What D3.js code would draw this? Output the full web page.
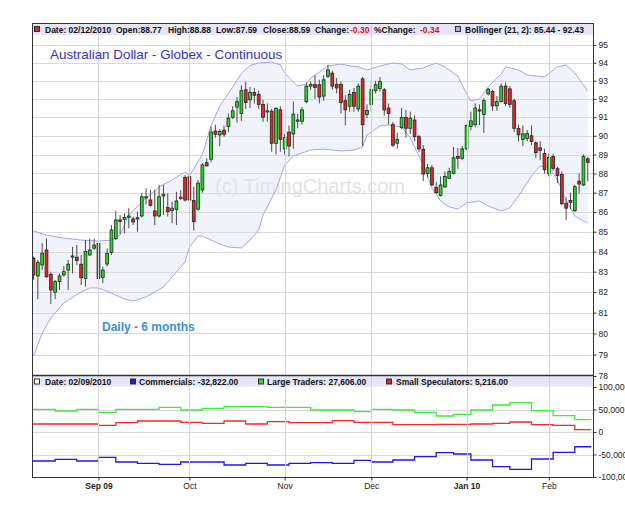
<!DOCTYPE html>
<html>
<head>
<meta charset="utf-8">
<script src="https://cdn.jsdelivr.net/npm/d3@7"></script>
<style>
body { margin: 0; background: #fff; }
</style>
</head>
<body>
<div id="chart"></div>
<script>
// daily bars, 11 Aug 2009 .. 12 Feb 2010 (index = trading day)
const opens = [83.67,82.79,83.33,84.08,82.87,81.99,82.51,82.84,83.08,83.72,83.72,83.37,82.67,83.83,84.17,84.41,82.72,83.38,83.95,84.65,85.60,85.62,85.74,85.65,85.66,85.80,86.74,86.62,86.06,85.80,86.83,86.23,86.07,86.14,86.72,87.80,87.83,86.59,86.15,87.14,88.57,
  88.75,90.25,90.05,90.30,90.50,91.00,91.55,91.20,92.50,91.95,
  92.35,92.25,91.70,91.30,91.33,89.60,91.40,89.30,90.20,90.10,
  90.80,90.78,91.85,92.70,92.78,92.78,92.15,93.25,93.42,92.80,
  92.80,91.90,91.60,92.35,91.45,93.10,91.15,91.70,92.45,92.57,
  92.50,91.50,90.60,89.60,90.45,90.98,90.40,90.85,89.95,89.28,
  88.00,88.30,87.28,86.85,87.30,87.75,88.00,88.90,88.80,89.30,
  90.50,90.60,91.40,91.15,92.27,92.40,91.62,91.85,92.70,92.55,
  91.90,90.40,89.80,89.85,90.00,89.62,89.35,89.05,88.00,88.90,
  88.25,87.95,86.45,86.60,86.07,87.60,87.40,88.77];
const highs = [83.75,83.58,84.41,84.66,83.00,82.59,82.92,83.28,83.58,84.24,84.33,83.83,84.58,84.66,84.66,84.50,83.25,84.16,85.34,86.07,85.85,85.94,86.20,85.77,86.02,86.97,87.23,87.14,87.14,87.40,87.40,86.97,86.54,87.05,87.14,87.92,88.09,87.31,87.66,88.55,88.80,
  90.50,90.60,90.35,90.55,91.20,91.60,92.10,92.75,92.95,92.65,
  92.60,92.45,91.95,91.75,91.45,91.55,91.60,90.10,90.55,91.85,
  91.20,91.55,92.90,92.95,93.30,93.05,93.30,93.88,93.55,93.15,
  92.95,92.20,92.50,92.60,92.85,93.20,91.70,92.90,93.00,93.20,
  92.60,91.75,90.75,90.15,91.50,91.40,91.30,91.10,90.05,89.50,
  88.50,88.45,87.55,87.85,88.10,88.30,89.40,89.35,89.45,90.60,
  91.30,91.75,91.70,92.05,92.60,92.50,92.15,92.85,92.90,92.70,
  92.00,90.60,90.55,90.30,90.55,89.70,89.70,89.30,89.05,89.05,
  88.35,88.10,86.75,87.00,87.40,88.00,89.00,88.88];
const lows = [82.60,81.65,83.08,82.70,81.42,81.65,82.10,82.75,82.10,82.92,83.33,82.35,82.27,83.80,84.08,82.43,82.43,83.25,83.83,84.58,84.88,84.92,85.17,85.34,85.00,85.73,86.40,86.28,85.34,85.73,85.85,85.77,85.43,85.34,86.62,86.54,86.54,85.05,86.07,87.00,88.36,
  88.60,89.90,89.45,89.95,90.20,90.90,90.70,90.80,91.45,91.50,
  91.75,91.45,90.75,90.75,89.15,89.00,89.15,89.00,88.90,89.30,
  90.40,90.60,91.75,92.50,92.00,91.75,91.90,93.15,92.50,92.30,
  91.20,90.55,91.30,91.30,91.30,89.45,90.95,91.30,92.30,92.40,
  91.10,90.60,89.40,89.30,90.35,89.90,90.10,89.70,89.15,87.60,
  87.80,87.35,86.95,86.80,87.25,87.70,87.95,88.25,88.70,89.25,
  90.30,90.45,90.57,90.15,92.20,91.35,91.35,91.80,91.60,91.50,
  90.20,89.70,89.45,89.70,89.50,88.80,88.70,88.00,87.85,88.15,
  87.50,86.35,85.60,86.15,86.00,86.95,87.35,87.59];
const closes = [82.84,83.45,83.92,82.75,82.10,82.51,82.79,83.00,83.37,83.78,83.55,82.70,84.00,84.08,84.33,82.67,83.08,83.92,85.09,85.60,85.52,85.72,85.80,85.50,85.71,86.79,86.79,86.35,85.80,86.79,86.92,86.02,86.20,86.57,86.77,86.62,86.62,85.51,87.50,88.45,88.40,
  90.20,90.08,90.23,90.08,90.95,91.35,91.85,92.45,91.80,92.35,
  92.20,91.70,91.00,91.35,89.60,91.47,89.81,89.90,89.45,91.17,
  90.85,91.40,92.70,92.80,92.63,92.10,93.05,93.60,92.70,92.60,
  91.80,91.40,92.25,91.60,92.70,90.60,91.37,92.50,92.78,92.95,
  91.40,91.20,89.50,89.80,90.98,90.40,90.95,89.95,89.30,87.97,
  88.30,87.40,87.00,87.40,87.85,88.10,88.83,88.80,89.30,90.55,
  90.80,91.50,91.35,91.90,92.53,91.62,91.85,92.70,91.75,91.70,
  90.40,90.05,90.10,90.12,89.70,89.10,89.22,88.20,88.85,88.27,
  87.90,86.43,86.20,86.50,87.31,87.45,88.89,88.59];

// Bollinger (21, 2)
const upperIdx = [0,3,7,11,15,18,20,22,25,29,32,35,36,39,41,43,45,48,50,52,55,57,58,60,61,63,64,66,68,71,73,75,77,80,83,85,87,90,93,95,98,100,101,103,105,108,109,112,114,118,121,123,125,128];
const upperVal = [85.04,84.83,84.68,84.58,84.53,84.58,84.83,85.85,86.52,87.30,87.66,88.08,87.87,89.00,90.55,91.60,92.30,93.40,93.85,93.99,94.04,93.88,93.43,92.93,92.71,92.82,93.15,93.48,93.82,93.93,93.82,93.77,93.60,93.82,93.99,93.93,93.60,93.71,93.99,93.77,93.26,92.27,91.89,91.99,92.66,93.37,93.77,93.60,93.32,93.21,93.77,93.88,93.43,92.43];
const lowerIdx = [0,2,4,7,11,13,15,18,21,23,26,30,32,35,36,38,39,43,45,48,50,52,53,56,58,60,62,64,67,71,74,76,77,80,82,85,87,90,92,94,96,98,100,103,105,108,110,112,115,117,119,121,123,125,127,128];
const lowerVal = [78.93,80.02,80.74,81.47,82.00,82.20,82.20,81.95,81.66,81.56,81.76,82.25,82.74,83.48,84.23,84.78,84.78,84.38,84.23,84.18,84.58,85.09,85.85,87.14,88.45,88.92,89.08,89.24,89.29,89.19,89.24,89.40,90.04,90.53,90.58,90.47,89.88,88.45,87.25,86.57,86.26,86.16,86.47,86.57,86.31,86.06,86.21,86.83,87.87,88.39,88.34,87.66,86.62,85.80,85.55,85.44];

// weekly COT net positions (report Tuesdays)
const cotIdx = [0,5,10,15,19,24,29,34,39,44,49,54,59,64,69,74,78,83,88,93,97,101,106,110,115,120,125];
const commercials = [-64400,-60700,-64400,-56300,-66700,-69600,-71900,-66700,-66700,-73300,-69600,-73300,-69600,-68100,-69600,-63000,-66700,-62200,-54800,-45900,-48900,-62200,-77000,-83000,-60000,-45200,-32822];
const largeTraders = [50400,46700,50400,43700,50400,50400,54800,48900,52600,56300,56300,54800,54800,48900,48900,45200,50400,48900,43700,35600,39300,48900,60000,65200,47400,36300,27606];
const smallSpecs = [17800,17800,17800,14800,20700,24400,24400,21500,19300,24400,17800,23000,20700,20700,25200,21500,21500,16300,16300,17000,17000,17800,19300,22200,16300,14800,5216];

const priceTicks = [78,79,80,81,82,83,84,85,86,87,88,89,90,91,92,93,94,95];
const cotTicks = [100000,50000,0,-50000,-100000];
const monthIdx = [15,36,58,78,100,119];
const monthLabels = ["Sep 09","Oct","Nov","Dec","Jan 10","Feb"];
const lastDate = "02/12/2010";
const cotDate = "02/09/2010";

const width = 625, height = 505;
const left = 32, right = 593;
const mainTop = 35, mainBottom = 375.5;
const subTop = 386.5, subBottom = 477;
const font = "'Liberation Sans', Arial, Helvetica, sans-serif";
const fmt = d3.formatLocale({decimal: ".", thousands: ",", grouping: [3], currency: ["", ""], minus: "-"});

const svg = d3.select("#chart").append("svg")
  .attr("width", width)
  .attr("height", height)
  .style("font-family", font);

svg.append("rect").attr("width", width).attr("height", height).attr("fill", "#fff");

const x = d3.scaleLinear().domain([-0.35, 129.2]).range([left, right]);
const y = d3.scaleLog().domain([78, 95]).range([376, 45]);
const yc = d3.scaleLinear().domain([-100000, 100000]).range([477, 387]);

const defs = svg.append("defs");
defs.append("clipPath").attr("id", "clipMain")
  .append("rect").attr("x", left).attr("y", mainTop).attr("width", right - left).attr("height", mainBottom - mainTop);
defs.append("clipPath").attr("id", "clipSub")
  .append("rect").attr("x", left).attr("y", subTop).attr("width", right - left).attr("height", subBottom - subTop);

// header bands
svg.append("rect").attr("x", left).attr("y", 23).attr("width", right - left).attr("height", 12).attr("fill", "#e6e6f8");
svg.append("rect").attr("x", left).attr("y", 376).attr("width", right - left).attr("height", 10.5).attr("fill", "#e6e6f8");

const main = svg.append("g").attr("clip-path", "url(#clipMain)");
const sub = svg.append("g").attr("clip-path", "url(#clipSub)");

// bollinger fill
const upperPts = upperIdx.map((d, k) => [d, upperVal[k]]);
const lowerPts = lowerIdx.map((d, k) => [d, lowerVal[k]]);
const bandLine = d3.line().x(d => x(d[0])).y(d => y(d[1]));
main.append("path")
  .attr("d", bandLine(upperPts.concat(lowerPts.slice().reverse())) + "Z")
  .attr("fill", "#f0f3f9");

// grid
main.selectAll(".hgrid").data(priceTicks.filter(d => d > 78)).enter().append("line")
  .attr("x1", left).attr("x2", right)
  .attr("y1", d => Math.round(y(d)) + 0.5).attr("y2", d => Math.round(y(d)) + 0.5)
  .attr("stroke", "#dadada");
sub.selectAll(".hgrid").data([50000, 0, -50000]).enter().append("line")
  .attr("x1", left).attr("x2", right)
  .attr("y1", d => Math.round(yc(d)) + 0.5).attr("y2", d => Math.round(yc(d)) + 0.5)
  .attr("stroke", "#dadada");
svg.selectAll(".vgrid").data(monthIdx).enter().append("line")
  .attr("x1", d => Math.round(x(d)) + 0.5).attr("x2", d => Math.round(x(d)) + 0.5)
  .attr("y1", 23).attr("y2", subBottom)
  .attr("stroke", "#d4d4d4");

// watermark
main.append("text")
  .attr("x", 215).attr("y", 193)
  .attr("font-size", 20)
  .attr("fill", "#e3e3e3")
  .text("(c) TimingCharts.com");

// bollinger lines
main.append("path").attr("d", bandLine(upperPts)).attr("fill", "none").attr("stroke", "#a4a4f2").attr("stroke-width", 1);
main.append("path").attr("d", bandLine(lowerPts)).attr("fill", "none").attr("stroke", "#a4a4f2").attr("stroke-width", 1);

// candles
const bars = d3.range(opens.length).map(i => ({i, o: opens[i], h: highs[i], l: lows[i], c: closes[i]}));
main.selectAll(".wick").data(bars).enter().append("line")
  .attr("x1", d => x(d.i)).attr("x2", d => x(d.i))
  .attr("y1", d => y(d.h)).attr("y2", d => y(d.l))
  .attr("stroke", "#4a4a4a").attr("stroke-width", 1);
main.selectAll(".body").data(bars).enter().append("rect")
  .attr("x", d => x(d.i) - 1.4)
  .attr("width", 2.8)
  .attr("y", d => y(Math.max(d.o, d.c)))
  .attr("height", d => Math.max(1.2, Math.abs(y(d.o) - y(d.c))))
  .attr("fill", d => d.c >= d.o ? "#22dd22" : "#ec2424")
  .attr("stroke", "#222").attr("stroke-width", 0.8);

// titles
svg.append("text").attr("x", 50).attr("y", 59)
  .attr("font-size", 13.4).attr("fill", "#3232c8")
  .text("Australian Dollar - Globex - Continuous");
svg.append("text").attr("x", 102).attr("y", 331)
  .attr("font-size", 12).attr("font-weight", "bold").attr("fill", "#3a8ee8")
  .text("Daily - 6 months");

// COT lines
function cotPoints(vals) {
  const pts = cotIdx.map((d, k) => [k === 0 ? x.domain()[0] : d, vals[k]]);
  pts.push([128.8, vals[vals.length - 1]]);
  return pts;
}
const cotLine = d3.line().x(d => x(d[0])).y(d => yc(d[1])).curve(d3.curveStepAfter);
[[largeTraders, "#3cec3c"], [smallSpecs, "#f22a2a"], [commercials, "#1a1aee"]].forEach(([vals, col]) => {
  sub.append("path").attr("d", cotLine(cotPoints(vals)))
    .attr("fill", "none").attr("stroke", col).attr("stroke-width", 1.3);
});

// frame
const frame = svg.append("g").attr("stroke", "#333").attr("fill", "none");
frame.append("line").attr("x1", left).attr("x2", right + 0.5).attr("y1", 23.5).attr("y2", 23.5);
frame.append("line").attr("x1", left + 0.5).attr("x2", left + 0.5).attr("y1", 23).attr("y2", subBottom + 0.5);
frame.append("line").attr("x1", right + 0.5).attr("x2", right + 0.5).attr("y1", 23).attr("y2", subBottom + 0.5);
frame.append("line").attr("x1", left).attr("x2", right + 0.5).attr("y1", 375.5).attr("y2", 375.5).attr("stroke-width", 1.5);
frame.append("line").attr("x1", left).attr("x2", right + 0.5).attr("y1", subBottom + 0.5).attr("y2", subBottom + 0.5);

// axes
function styleAxis(g) {
  g.select(".domain").remove();
  g.selectAll("text").attr("font-size", 8.5).attr("font-family", font).attr("fill", "#222");
  g.selectAll("line").attr("stroke", "#333");
}
svg.append("g").attr("transform", `translate(${right + 0.5},0)`)
  .call(d3.axisRight(y).tickValues(priceTicks).tickFormat(d3.format("d")).tickSize(3).tickPadding(2))
  .call(styleAxis);
svg.append("g").attr("transform", `translate(${right + 0.5},0)`)
  .call(d3.axisRight(yc).tickValues(cotTicks).tickFormat(fmt.format(",")).tickSize(3).tickPadding(2))
  .call(styleAxis);
svg.append("g").attr("transform", `translate(0,${subBottom + 0.5})`)
  .call(d3.axisBottom(x).tickValues(monthIdx).tickFormat((d, k) => monthLabels[k]).tickSize(3).tickPadding(2))
  .call(styleAxis)
  .call(g => g.selectAll("text").attr("font-weight", (d, k) => monthLabels[k].includes(" ") ? "bold" : "normal"));

// header legends
function marker(px, py, col) {
  svg.append("rect").attr("x", px + 0.5).attr("y", py + 0.5).attr("width", 5).attr("height", 5)
    .attr("fill", col).attr("stroke", "#222").attr("stroke-width", 0.9);
}
function label(px, py, txt, col) {
  svg.append("text").attr("x", px).attr("y", py)
    .attr("font-size", 8.5).attr("font-weight", "bold").attr("fill", col || "#111")
    .text(txt);
}
const n = closes.length - 1;
const chg = closes[n] - closes[n - 1];
const f2 = fmt.format(".2f");
marker(34, 26, "#ee2020");
label(45, 32.5, "Date: " + lastDate);
label(116, 32.5, "Open:" + f2(opens[n]));
label(168, 32.5, "High:" + f2(highs[n]));
label(216, 32.5, "Low:" + f2(lows[n]));
label(263, 32.5, "Close:" + f2(closes[n]));
label(315, 32.5, "Change:");
label(350, 32.5, f2(chg), "#e01010");
label(374, 32.5, "%Change:");
label(420, 32.5, f2(chg / closes[n - 1] * 100), "#e01010");
marker(455, 26, "#aaaaee");
label(465, 32.5, "Bollinger (21, 2): " + f2(lowerVal[lowerVal.length - 1]) + " - " + f2(upperVal[upperVal.length - 1]));

const fc = fmt.format(",.2f");
const m = cotIdx.length - 1;
marker(34, 378.5, "#ffffff");
label(45, 384.5, "Date: " + cotDate);
marker(130, 378.5, "#1a1aee");
label(139, 384.5, "Commercials: " + fc(commercials[m]));
marker(258, 378.5, "#22dd22");
label(267, 384.5, "Large Traders: " + fc(largeTraders[m]));
marker(386, 378.5, "#ee2020");
label(396, 384.5, "Small Speculators: " + fc(smallSpecs[m]));
</script>
</body>
</html>
